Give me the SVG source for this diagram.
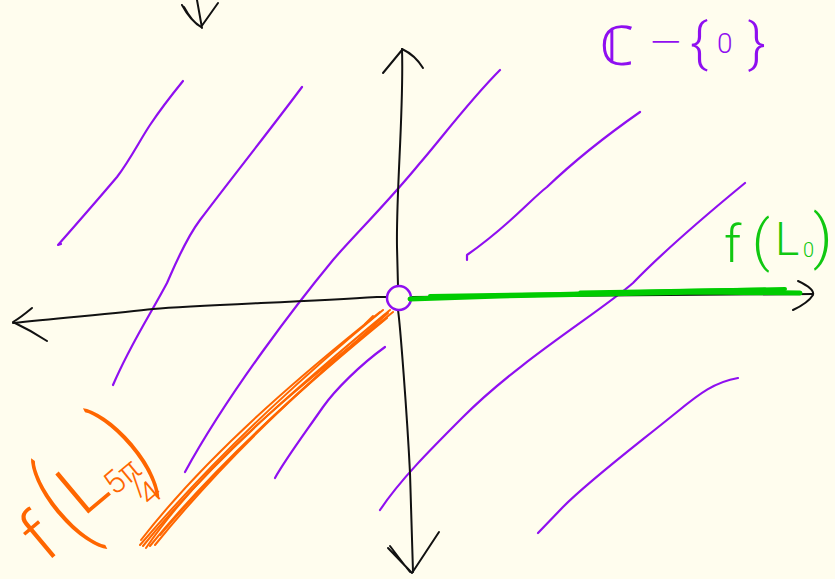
<svg xmlns="http://www.w3.org/2000/svg" width="835" height="579" viewBox="0 0 835 579">
<style>
.ax{fill:none;stroke:#111;stroke-width:2;stroke-linecap:round;stroke-linejoin:round}
.pu{fill:none;stroke:#8f0ff0;stroke-width:2.2;stroke-linecap:round;stroke-linejoin:round}
.gr{fill:none;stroke:#00cc00;stroke-linecap:round;stroke-linejoin:round}
.or{fill:none;stroke:#ff6600;stroke-width:2;stroke-linecap:round;stroke-linejoin:round}
.tp{fill:#8f0ff0;font-family:Roboto,"DejaVu Sans",sans-serif;font-weight:300}
.tg{fill:#11c811;font-family:Roboto,"Liberation Sans",sans-serif;font-weight:300}
.to{fill:#ff6600;font-family:Roboto,"Liberation Sans",sans-serif;font-weight:300}
</style>
<rect width="835" height="579" fill="#fffdee"/>
<g id="hatching">
<path class="pu" d="M183,81 C170,97 160,110 150,125 C140,140 130,160 117,177 C100,197 80,220 58,245 L61,244"/>
<path class="pu" d="M302,87 C270,130 230,180 200,220 C185,240 175,265 167,283 C150,315 130,345 113,385"/>
<path class="pu" d="M500,70 C470,100 440,140 420,163 C390,200 350,240 333,260 C300,300 230,390 185,472"/>
<path class="pu" d="M385,347 C360,365 335,390 323,407 C300,440 285,460 275,478"/>
<path class="pu" d="M640,112 C600,140 570,165 547,187 C530,200 510,225 467,255 L467,260"/>
<path class="pu" d="M745,183 C700,220 660,255 633,283 C600,312 520,360 463,417 C430,450 400,480 380,510"/>
<path class="pu" d="M738,378 C715,382 700,393 677,412 C630,450 590,480 563,507 L538,533"/>
</g>
<g id="axes">
<path class="ax" d="M387,297 L377,297 C300,302 200,305 153,309 C120,313 60,318 13,323"/>
<path class="ax" d="M32,308 Q20,318 13,322 Q30,330 47,341"/>
<path class="ax" d="M411,297 L813,294"/>
<path class="ax" d="M798,281 Q815,289 813,295 Q808,303 793,310" stroke-width="2.5"/>
<path class="ax" d="M402,49 C404,110 396,190 397,247 L398,286"/>
<path class="ax" d="M402,50 L383,73" stroke-width="3.5"/>
<path class="ax" d="M402,49 Q415,55 423,68"/>
<path class="ax" d="M398,310 C400,323 407,413 410,473 L413,572"/>
<path class="ax" d="M388,548 L412,573 L439,532 M390,546 Q402,562 410,572"/>
<path class="ax" d="M197,0 L202,28 M182,5 Q190,20 201,27 M184,7 Q192,22 201,27 M218,3 L201,27"/>
</g>
<g id="origin">
<circle cx="399" cy="298" r="12" fill="none" stroke="#8f0ff0" stroke-width="2.5"/>
</g>
<g id="f-L0">
<path class="gr" stroke-width="5" d="M410,299 L500,296 L600,294 L700,292 L800,293"/>
<path class="gr" stroke-width="4" d="M430,296 L560,294 L680,291 L785,289"/>
<path class="gr" stroke-width="3" d="M580,292 L700,290 L765,289"/>
<text class="tg"><tspan x="724" y="262" font-size="52">f</tspan><tspan x="752" y="260" font-size="56">(</tspan><tspan x="775" y="255" font-size="46">L</tspan><tspan x="803" y="257" font-size="20">0</tspan><tspan x="813" y="257" font-size="60">)</tspan></text>
</g>
<g id="f-L5pi4">
<path class="or" d="M390,310 C330,360 220,450 143,546"/>
<path class="or" d="M387,318 C326,368 226,452 150,546"/>
<path class="or" d="M393,312 C340,355 250,430 160,535"/>
<path class="or" d="M380,312 C320,360 214,446 141,540"/>
<path class="or" d="M388,313 C330,365 240,440 155,545"/>
<path class="or" d="M383,310 C320,362 230,440 140,545"/>
<path class="or" d="M384,320 C300,385 205,462 146,548"/>
<path class="or" d="M365,324 L373,316"/>
<g transform="translate(50,556) rotate(-40)">
<text class="to" x="-8" y="3" font-size="72">f</text>
<text class="to" transform="translate(28,5) scale(1,1.65)" font-size="70">(</text>
<text class="to" x="50" y="-8" font-size="72">L</text>
<text class="to"><tspan x="88" y="-4" font-size="32">5π</tspan><tspan x="106" y="12" font-size="32">/</tspan><tspan x="108" y="27" font-size="32">4</tspan></text>
<text class="to" transform="translate(118,0) scale(1,1.65)" font-size="70">)</text>
</g>
</g>
<g id="label-C">
<text class="tp"><tspan x="600" y="65" font-size="55" font-family="DejaVu Sans">ℂ</tspan><tspan x="648" y="55" font-size="42" font-family="DejaVu Sans">−</tspan><tspan x="690" y="61" font-size="54">{</tspan><tspan x="717" y="53" font-size="28">0</tspan><tspan x="748" y="61" font-size="54">}</tspan></text>
</g>
</svg>
